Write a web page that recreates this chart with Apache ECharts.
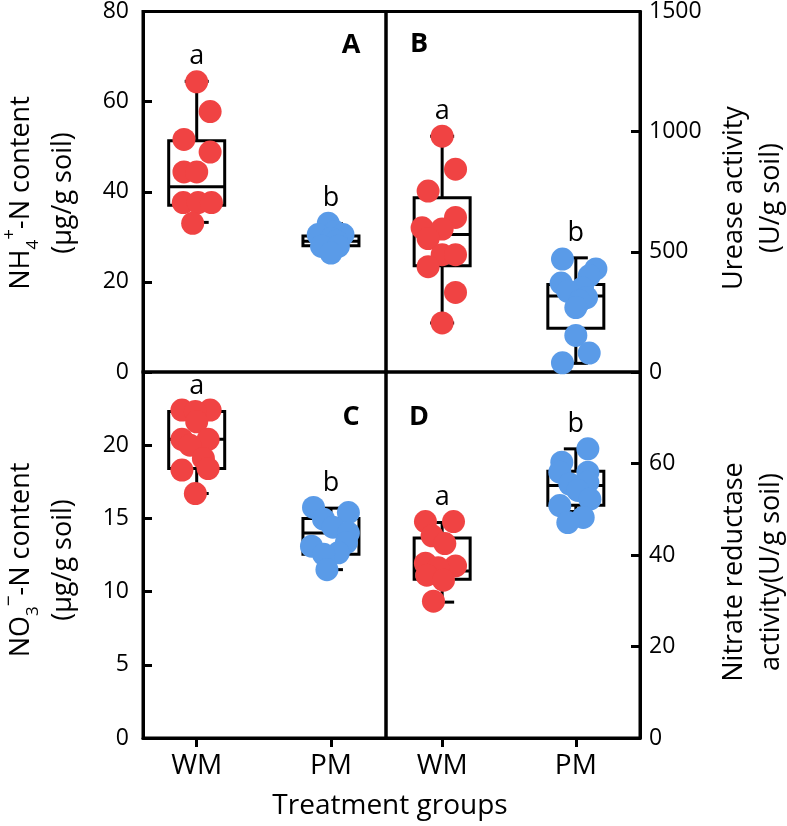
<!DOCTYPE html>
<html>
<head>
<meta charset="utf-8">
<script src="https://cdn.jsdelivr.net/npm/echarts@6/dist/echarts.min.js"></script>
<style>
html,body{margin:0;padding:0;background:#fff;}
#chart{width:787px;height:826px;}
</style>
</head>
<body>
<div id="chart"></div>
<script>
// ---------- DATA ----------
const groups = ['WM', 'PM'];

// Panel A: NH4+-N content (µg/g soil)
const nh4WM = [64.4, 57.8, 51.6, 48.8, 44.4, 44.4, 37.6, 37.6, 37.6, 33.0];
const nh4WMcol = [0, 1.0, -0.95, 1.0, -0.95, 0, -1.0, 0.1, 1.1, -0.3];
const nh4PM = [33.0, 31.2, 30.5, 30.5, 29.6, 29.0, 27.9, 27.9, 26.4];
const nh4PMcol = [-0.2, 0.3, -0.95, 0.9, 0, 0.4, -0.7, 0.55, 0];
const nh4BoxWM = [33.2, 37.0, 41.1, 51.3, 64.5]; // min, q1, median, q3, max
const nh4BoxPM = [26.3, 28.0, 29.0, 30.2, 32.9];
const nh4Letters = ['a', 'b'];

// Panel B: Urease activity (U/g soil)
const ureWM = [981, 844, 753, 643, 600, 595, 555, 488, 488, 438, 331, 204];
const ureWMcol = [0, 1.0, -1.05, 1.0, -1.5, 0, -1.05, 0, 1.0, -1.05, 1.0, 0];
const urePM = [470, 429, 400, 370, 350, 336, 310, 295, 268, 152, 79, 38];
const urePMcol = [-1.0, 1.5, 1.0, -1.1, 0.5, -0.6, 0.8, 0.3, 0, 0, 1.0, -1.0];
const ureBoxWM = [204, 442, 572, 725, 981];
const ureBoxPM = [36, 182, 316, 364, 475];
const ureLetters = ['a', 'b'];

// Panel C: NO3--N content (µg/g soil)
const no3WM = [22.4, 22.4, 22.3, 21.6, 20.4, 20.4, 20.0, 19.1, 18.4, 18.3, 16.7];
const no3WMcol = [-1.1, 1.0, -0.1, 0, -1.1, 0.85, -0.5, 0.5, 0.85, -1.1, -0.1];
const no3PM = [15.75, 15.4, 14.95, 14.4, 14.0, 13.35, 13.1, 12.65, 12.55, 11.5];
const no3PMcol = [-1.3, 1.3, -0.55, 0.15, 1.3, 1.15, -1.45, 0.55, -0.55, -0.3];
const no3BoxWM = [16.7, 18.4, 20.4, 22.3, 22.3];
const no3BoxPM = [11.5, 12.55, 14.0, 15.0, 15.7];
const no3Letters = ['a', 'b'];

// Panel D: Nitrate reductase activity (U/g soil)
const nrWM = [47.3, 47.3, 44.2, 42.5, 38.2, 37.6, 37.2, 35.6, 34.5, 29.9];
const nrWMcol = [-1.25, 0.85, -0.75, 0.2, -1.25, 1.0, -0.3, -1.15, 0.1, -0.65];
const nrPM = [63.2, 60.3, 58.1, 58.1, 55.9, 55.5, 54.1, 52.2, 50.8, 48.2, 47.1];
const nrPMcol = [0.9, -1.05, 0.9, -1.2, 0.9, -0.45, 0.15, 1.05, -1.2, 0.55, -0.6];
const nrBoxWM = [29.7, 34.7, 36.5, 43.7, 47.1];
const nrBoxPM = [49.5, 50.9, 55.2, 58.3, 63.2];
const nrLetters = ['a', 'b'];

// y-axis tick settings
const yA = {min: 0, max: 80, interval: 20};
const yB = {min: 0, max: 1500, interval: 500};
const yC = {min: 0, max: 25, interval: 5};
const yD = {min: 0, max: 80, interval: 20};

// ---------- STYLE ----------
const FONT = 'Open Sans';
const RED = '#F04343';
const BLUE = '#5A9BE8';
const COL_STEP = 0.1;

const chart = echarts.init(document.getElementById('chart'), null, {renderer: 'canvas'});

function pts(vals, cols, gi) {
  return vals.map((v, i) => [gi + 1 + cols[i] * COL_STEP, v]);
}

function boxRow(gi, b) { return [gi + 1].concat(b); }

function makeBox(idx, boxes, letters) {
  return {
    type: 'custom',
    xAxisIndex: idx, yAxisIndex: idx,
    z: 2,
    silent: true,
    encode: {x: 0, y: [1, 2, 3, 4, 5]},
    data: boxes.map((b, gi) => boxRow(gi, b)),
    renderItem: function (params, api) {
      const x = api.value(0);
      const pMin = api.coord([x, api.value(1)]);
      const pQ1 = api.coord([x, api.value(2)]);
      const pMd = api.coord([x, api.value(3)]);
      const pQ3 = api.coord([x, api.value(4)]);
      const pMax = api.coord([x, api.value(5)]);
      const cx = pMin[0];
      const hw = 28, cw = 12;
      const ls = {stroke: '#000', lineWidth: 3, fill: 'none'};
      return {
        type: 'group',
        children: [
          {type: 'line', shape: {x1: cx, y1: pQ3[1], x2: cx, y2: pMax[1]}, style: ls},
          {type: 'line', shape: {x1: cx, y1: pQ1[1], x2: cx, y2: pMin[1]}, style: ls},
          {type: 'line', shape: {x1: cx - cw, y1: pMax[1], x2: cx + cw, y2: pMax[1]}, style: ls},
          {type: 'line', shape: {x1: cx - cw, y1: pMin[1], x2: cx + cw, y2: pMin[1]}, style: ls},
          {type: 'rect', shape: {x: cx - hw, y: pQ3[1], width: 2 * hw, height: Math.max(pQ1[1] - pQ3[1], 1)}, style: ls},
          {type: 'line', shape: {x1: cx - hw, y1: pMd[1], x2: cx + hw, y2: pMd[1]}, style: ls},
          {type: 'text', x: cx, y: pMax[1] - 25, style: {text: letters[params.dataIndex], fill: '#000', font: '27px "' + FONT + '"', align: 'center', verticalAlign: 'middle'}}
        ]
      };
    }
  };
}

function makeDots(idx, vals, cols, gi, color) {
  return {
    type: 'scatter',
    xAxisIndex: idx, yAxisIndex: idx,
    z: 5,
    symbol: 'circle',
    symbolSize: 23,
    itemStyle: {color: color, opacity: 1},
    data: pts(vals, cols, gi)
  };
}

const grids = [
  {left: 143, top: 6, width: 243, height: 366},
  {left: 386, top: 6, width: 254, height: 366},
  {left: 143, top: 372, width: 243, height: 366},
  {left: 386, top: 372, width: 254, height: 366}
].map(g => Object.assign(g, {show: true, borderColor: '#000', borderWidth: 3, backgroundColor: 'transparent', containLabel: false}));

function xAxis(idx, bottom, xmin, xmax) {
  return {
    type: 'value', gridIndex: idx, min: xmin, max: xmax,
    splitLine: {show: false},
    axisLine: {show: bottom, onZero: false, lineStyle: {color: '#000', width: 3}},
    axisTick: {show: bottom, inside: false, length: 9, lineStyle: {color: '#000', width: 3}, customValues: [1, 2]},
    axisLabel: {show: bottom, customValues: [1, 2], margin: 14, color: '#000', fontSize: 28, fontFamily: FONT,
      formatter: v => groups[Math.round(v) - 1] || ''}
  };
}

function yAxis(idx, cfg, pos, hideMax) {
  return {
    type: 'value', gridIndex: idx, position: pos,
    min: cfg.min, max: cfg.max, interval: cfg.interval,
    splitLine: {show: false},
    axisLine: {show: true, lineStyle: {color: '#000', width: 3}},
    axisTick: {show: true, inside: true, length: 9, lineStyle: {color: '#000', width: 3}},
    axisLabel: {color: '#000', fontSize: 23, fontFamily: FONT, margin: pos === 'left' ? 14 : 9,
      formatter: v => (hideMax && v === cfg.max) ? '' : String(v)}
  };
}

const richSS = {
  sub: {fontSize: 17, fontFamily: FONT, verticalAlign: 'bottom', lineHeight: 24, fill: '#000'},
  sup: {fontSize: 19, fontFamily: FONT, verticalAlign: 'top', lineHeight: 26, fill: '#000'}
};

function vTitle(x, y, text, lh) {
  return {
    type: 'text', x: x, y: y, rotation: Math.PI / 2,
    style: {text: text, fill: '#000', fontSize: 27, fontFamily: FONT, lineHeight: lh, align: 'center', verticalAlign: 'middle', rich: richSS}
  };
}

function panelLetter(x, y, t) {
  return {type: 'text', x: x, y: y, style: {text: t, fill: '#000', fontSize: 27, fontWeight: 'bold', fontFamily: FONT, align: 'center', verticalAlign: 'middle'}};
}

const option = {
  backgroundColor: '#fff',
  animation: false,
  grid: grids,
  xAxis: [
    xAxis(0, false, 0.6, 2.41),
    xAxis(1, false, 0.58, 2.48),
    xAxis(2, true, 0.6, 2.41),
    xAxis(3, true, 0.58, 2.48)
  ],
  yAxis: [
    yAxis(0, yA, 'left', false),
    yAxis(1, yB, 'right', false),
    yAxis(2, yC, 'left', true),
    yAxis(3, yD, 'right', true)
  ],
  series: [
    makeBox(0, [nh4BoxWM, nh4BoxPM], nh4Letters),
    makeDots(0, nh4WM, nh4WMcol, 0, RED),
    makeDots(0, nh4PM, nh4PMcol, 1, BLUE),
    makeBox(1, [ureBoxWM, ureBoxPM], ureLetters),
    makeDots(1, ureWM, ureWMcol, 0, RED),
    makeDots(1, urePM, urePMcol, 1, BLUE),
    makeBox(2, [no3BoxWM, no3BoxPM], no3Letters),
    makeDots(2, no3WM, no3WMcol, 0, RED),
    makeDots(2, no3PM, no3PMcol, 1, BLUE),
    makeBox(3, [nrBoxWM, nrBoxPM], nrLetters),
    makeDots(3, nrWM, nrWMcol, 0, RED),
    makeDots(3, nrPM, nrPMcol, 1, BLUE)
  ],
  graphic: [
    vTitle(42, 193, 'NH{sub|4}{sup|+}-N content\n(μg/g soil)', 42),
    vTitle(42, 560, 'NO{sub|3}{sup|−}-N content\n(μg/g soil)', 42),
    vTitle(753, 198, 'Urease activity\n(U/g soil)', 37),
    vTitle(753, 572, 'Nitrate reductase\nactivity(U/g soil)', 37),
    {type: 'text', x: 390, y: 806, style: {text: 'Treatment groups', fill: '#000', fontSize: 28, fontFamily: FONT, align: 'center', verticalAlign: 'middle'}},
    panelLetter(351, 45, 'A'),
    panelLetter(419, 44, 'B'),
    panelLetter(351, 417, 'C'),
    panelLetter(419, 417, 'D')
  ]
};
chart.setOption(option);
</script>
</body>
</html>
